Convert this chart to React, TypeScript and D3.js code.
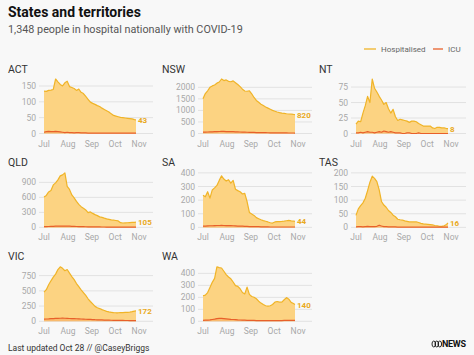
import React from 'react';
import * as d3 from 'd3';

// ---------- DATA ----------
const START = new Date(2022, 6, 1);
const DAY_OFFSETS: number[] = d3.range(0, 118, 3).concat([119]);
const MONTH_TICKS = ['Jul', 'Aug', 'Sep', 'Oct', 'Nov'];

const ACT_HOSP = [134,133,136,137,139,172,163,155,150,160,165,148,145,142,136,140,130,126,117,108,99,95,92,88,85,80,76,72,68,62,57,55,53,51,50,49,48,47,46,44,43];
const ACT_ICU = [4,6,7,6,6,7,6,5,4,3,4,3,3,2,3,3,2,2,2,1,1,1,1,1,1,1,1,1,1,1,1,1,1,1,1,1,1,1,1,1,1];
const ACT_TICKS = [0, 50, 100, 150];

const NSW_HOSP = [1500,1730,1850,2000,2060,2100,2180,2230,2360,2290,2320,2260,2240,2280,2200,2120,2030,1920,1840,1830,1850,1720,1560,1430,1350,1270,1210,1150,1100,1050,1000,965,930,905,885,870,855,845,835,825,820];
const NSW_ICU = [60,62,66,70,74,78,82,86,90,88,85,82,80,78,74,70,66,62,58,55,52,48,45,42,40,38,36,34,32,30,29,28,27,26,25,24,23,22,21,21,20];
const NSW_TICKS = [0, 500, 1000, 1500, 2000];

const NT_HOSP = [15,20,19,33,45,60,50,88,73,67,60,54,47,50,40,33,39,27,21,23,22,21,20,18,20,20,19,16,14,12,12,12,12,9,8,10,10,9,9,8,8];
const NT_ICU = [1,1,2,1,2,3,2,2,1,2,3,2,4,3,2,3,2,1,1,1,0,0,1,1,0,0,0,1,0,0,0,0,0,0,0,0,0,0,0,0,0];
const NT_TICKS = [0, 25, 50, 75];

const QLD_HOSP = [610,640,710,740,850,890,950,1030,1050,1090,820,760,650,590,520,460,415,385,350,295,310,280,255,235,210,200,185,172,162,152,145,138,130,95,88,90,93,96,99,102,105];
const QLD_ICU = [15,16,18,20,22,24,25,26,28,27,25,24,22,20,18,16,15,14,13,12,11,10,10,9,9,8,8,7,7,7,6,6,6,5,5,5,5,4,4,4,4];
const QLD_TICKS = [0, 300, 600, 900];

const SA_HOSP = [236,225,262,215,275,290,308,345,378,355,340,350,325,345,280,270,262,245,250,190,110,98,88,72,64,56,50,45,40,34,32,40,43,43,44,46,49,51,48,46,44];
const SA_ICU = [10,10,11,12,12,13,14,14,15,14,13,14,13,12,11,10,10,9,8,7,6,6,5,5,5,4,4,4,4,3,3,3,3,3,3,3,3,3,3,3,3];
const SA_TICKS = [0, 100, 200, 300, 400];

const TAS_HOSP = [44,68,80,90,107,135,166,188,180,168,138,95,82,74,62,55,45,39,30,28,27,24,22,20,20,20,20,18,15,13,12,11,10,9,7,6,4,4,6,11,16];
const TAS_ICU = [2,3,3,2,3,4,3,3,3,4,8,5,3,3,2,2,2,2,1,1,1,1,1,1,1,1,1,1,1,1,1,1,1,1,1,1,1,1,1,1,1];
const TAS_TICKS = [0, 50, 100, 150, 200];

const VIC_HOSP = [479,520,600,665,725,775,850,895,870,830,850,790,735,685,620,570,515,470,425,370,325,285,245,222,209,192,178,163,154,148,142,140,140,142,144,146,148,150,158,168,172];
const VIC_ICU = [35,38,40,43,45,47,48,50,52,50,48,46,45,44,42,40,38,36,34,32,30,28,26,25,23,22,20,19,18,17,16,15,15,14,14,13,13,12,12,12,12];
const VIC_TICKS = [0, 250, 500, 750];

const WA_HOSP = [213,219,240,282,325,358,455,448,445,418,390,370,355,328,298,292,272,240,228,285,225,207,201,188,168,152,140,130,127,130,140,160,165,160,160,180,198,185,158,148,140];
const WA_ICU = [8,9,10,12,15,18,22,25,24,22,20,18,16,15,14,12,11,10,9,8,8,7,7,6,6,6,5,5,5,5,5,5,6,6,6,7,7,8,8,7,7];
const WA_TICKS = [0, 100, 200, 300, 400];

const STATE_NAMES = ['ACT', 'NSW', 'NT', 'QLD', 'SA', 'TAS', 'VIC', 'WA'];

const TITLE = 'States and territories';
const SUBTITLE = '1,348 people in hospital nationally with COVID-19';
const FOOTER = 'Last updated Oct 28 // @CaseyBriggs';

// ---------- STYLE / LAYOUT ----------
const W = 474;
const H = 355;
const BG = '#f8f8f8';
const HOSP_LINE = '#f0b428';
const HOSP_FILL = '#fcd382';
const ICU_LINE = '#e8602a';
const LABEL_COL = '#e9a920';
const FONT = 'Roboto, "Noto Sans", sans-serif';

const COL_LABEL_X = [8, 162, 319];
const COL_LEFT = [44, 203, 356];
const COL_GRID_RIGHT = [153, 312, 466];
const ROW_TOP = [79, 172.9, 266.8];
const PLOT_W = 92;
const PLOT_H = 54.5;

const panels = [
  { name: STATE_NAMES[0], hosp: ACT_HOSP, icu: ACT_ICU, ticks: ACT_TICKS },
  { name: STATE_NAMES[1], hosp: NSW_HOSP, icu: NSW_ICU, ticks: NSW_TICKS },
  { name: STATE_NAMES[2], hosp: NT_HOSP, icu: NT_ICU, ticks: NT_TICKS },
  { name: STATE_NAMES[3], hosp: QLD_HOSP, icu: QLD_ICU, ticks: QLD_TICKS },
  { name: STATE_NAMES[4], hosp: SA_HOSP, icu: SA_ICU, ticks: SA_TICKS },
  { name: STATE_NAMES[5], hosp: TAS_HOSP, icu: TAS_ICU, ticks: TAS_TICKS },
  { name: STATE_NAMES[6], hosp: VIC_HOSP, icu: VIC_ICU, ticks: VIC_TICKS },
  { name: STATE_NAMES[7], hosp: WA_HOSP, icu: WA_ICU, ticks: WA_TICKS },
];

const dates = DAY_OFFSETS.map((d) => d3.timeDay.offset(START, d));
const monthDates = MONTH_TICKS.map((_, i) => d3.timeMonth.offset(START, i));

function Panel({ p, idx }: { p: typeof panels[number]; idx: number }) {
  const col = idx % 3;
  const row = Math.floor(idx / 3);
  const left = COL_LEFT[col];
  const top = ROW_TOP[row];
  const x = d3.scaleTime().domain([dates[0], dates[dates.length - 1]]).range([left, left + PLOT_W]);
  const yMax = Math.max(d3.max(p.hosp) as number, p.ticks[p.ticks.length - 1]);
  const y = d3.scaleLinear().domain([0, yMax]).range([top + PLOT_H, top]);

  const area = d3.area<number>().x((_, i) => x(dates[i])).y0(y(0)).y1((d) => y(d));
  const line = d3.line<number>().x((_, i) => x(dates[i])).y((d) => y(d));
  const last = p.hosp[p.hosp.length - 1];

  return (
    <g>
      <text x={COL_LABEL_X[col]} y={top - 6.5} fontSize={10.5} fill="#333" fontFamily={FONT}>{p.name}</text>
      {p.ticks.map((t) => (
        <g key={t}>
          <line x1={left - 5} x2={COL_GRID_RIGHT[col]} y1={y(t)} y2={y(t)} stroke="#e2e2e2" strokeWidth={1} />
          <text x={left - 8} y={y(t) + 3} fontSize={8.5} fill="#a8a8a8" textAnchor="end" fontFamily={FONT}>{t}</text>
        </g>
      ))}
      <path d={area(p.hosp) || ''} fill={HOSP_FILL} />
      <path d={line(p.hosp) || ''} fill="none" stroke={HOSP_LINE} strokeWidth={1.2} strokeLinejoin="round" />
      <path d={area(p.icu) || ''} fill="#f6a45a" opacity={0.5} />
      <path d={line(p.icu) || ''} fill="none" stroke={ICU_LINE} strokeWidth={1.2} strokeLinejoin="round" />
      <text x={left + PLOT_W + 2} y={y(last) + 3} fontSize={8} fontWeight={700} fill={LABEL_COL} fontFamily={FONT}>{last}</text>
      {monthDates.map((m, i) => (
        <text key={i} x={x(m)} y={y(0) + 13} fontSize={8.5} fill="#a8a8a8" textAnchor="middle" fontFamily={FONT}>{MONTH_TICKS[i]}</text>
      ))}
    </g>
  );
}

export default function App() {
  return (
    <div style={{ position: 'absolute', left: 0, top: 0 }}>
      <style>{'body{margin:0;background:' + BG + ';}'}</style>
      <svg width={W} height={H} style={{ display: 'block' }}>
        <rect width={W} height={H} fill={BG} />
        <text x={8} y={17} fontSize={14} fontWeight={700} fill="#111" fontFamily={FONT}>{TITLE}</text>
        <text x={8} y={33} fontSize={10.8} fill="#555" fontFamily={FONT}>{SUBTITLE}</text>
        <line x1={364} x2={376} y1={49} y2={49} stroke={HOSP_LINE} strokeWidth={1.3} />
        <text x={381} y={51.8} fontSize={8} fill="#666" fontFamily={FONT}>Hospitalised</text>
        <line x1={433} x2={443} y1={49} y2={49} stroke={ICU_LINE} strokeWidth={1.3} />
        <text x={448} y={51.8} fontSize={8} fill="#666" fontFamily={FONT}>ICU</text>
        {panels.map((p, i) => <Panel key={p.name} p={p} idx={i} />)}
        <text x={8} y={351} fontSize={8.5} fill="#333" fontFamily={FONT}>{FOOTER}</text>
        <g transform="translate(432,344)" fill="none" stroke="#111" strokeWidth={0.9}>
          <ellipse cx={1.8} cy={0} rx={1.8} ry={3} />
          <ellipse cx={4.8} cy={0} rx={1.8} ry={3} />
          <ellipse cx={7.8} cy={0} rx={1.8} ry={3} />
        </g>
        <text x={442} y={347.3} fontSize={9} fontWeight={700} fill="#111" fontFamily={FONT} letterSpacing={-0.3}>NEWS</text>
      </svg>
    </div>
  );
}
